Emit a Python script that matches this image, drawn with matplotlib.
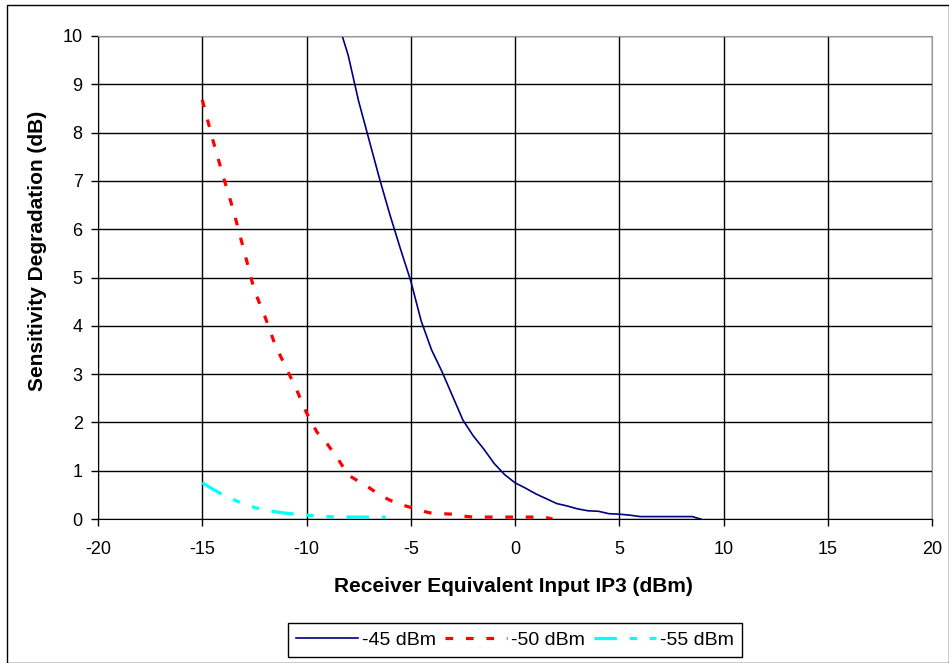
import matplotlib.pyplot as plt
from matplotlib.patches import Rectangle

plt.rcParams['font.family'] = ['Liberation Sans', 'DejaVu Sans']
plt.rcParams['axes.unicode_minus'] = False

# -45 dBm curve
x45 = [-9, -8.5, -8, -7.5, -7, -6.5, -6, -5.5, -5, -4.5, -4, -3.5, -3, -2.5, -2,
       -1.5, -1, -0.5, 0, 0.5, 1, 1.5, 2, 2.5, 3, 3.5, 4, 4.5, 5, 5.5, 6, 6.5,
       7, 7.5, 8, 8.5, 8.9]
y45 = [11.1, 10.3, 9.6, 8.65, 7.85, 7.05, 6.3, 5.6, 4.93, 4.1, 3.5, 3.05, 2.55,
       2.05, 1.72, 1.45, 1.15, 0.92, 0.75, 0.64, 0.52, 0.42, 0.32, 0.27, 0.21,
       0.17, 0.16, 0.11, 0.1, 0.08, 0.05, 0.05, 0.05, 0.05, 0.05, 0.05, 0.0]

# -50 dBm curve
x50 = [-15, -14.5, -14, -13.5, -13, -12.5, -12, -11.5, -11, -10.5, -10, -9.5,
       -9, -8.5, -8, -7.5, -7, -6.5, -6, -5.5, -5, -4.5, -4, -3.5, -3, -2.5,
       -2, -1.5, -1, -0.5, 0, 0.5, 1, 1.5, 1.8]
y50 = [8.68, 7.86, 7.1, 6.38, 5.56, 4.73, 4.2, 3.6, 3.15, 2.7, 2.2, 1.8, 1.55,
       1.25, 0.91, 0.78, 0.65, 0.5, 0.39, 0.3, 0.24, 0.17, 0.12, 0.11, 0.1,
       0.06, 0.04, 0.04, 0.04, 0.04, 0.04, 0.04, 0.04, 0.03, 0.0]

# -55 dBm curve
x55 = [-15, -14.5, -14, -13.5, -13, -12.5, -12, -11.5, -11, -10.5, -10, -9.5,
       -9, -8.5, -8, -7.5, -7, -6.5, -6.2]
y55 = [0.75, 0.62, 0.5, 0.4, 0.31, 0.24, 0.18, 0.15, 0.12, 0.1, 0.08, 0.06,
       0.05, 0.04, 0.04, 0.04, 0.04, 0.04, 0.04]

xticks = list(range(-20, 21, 5))
yticks = list(range(0, 11))

fig = plt.figure(figsize=(9.49, 6.63), dpi=100)
ax = fig.add_axes([98 / 949, 1 - 519 / 663, (932 - 98) / 949, (519 - 36) / 663])

ax.plot(x45, y45, color='#000080', lw=1.2, label='-45 dBm')
ax.plot(x50, y50, color='#ff0000', lw=2.3, dashes=(2.4, 4), label='-50 dBm')
ax.plot(x55, y55, color='#00ffff', lw=2.3, dashes=(7, 4, 2.3, 4, 2.3, 4),
        label='-55 dBm')

ax.set_xlim(-20, 20)
ax.set_ylim(0, 10)
ax.set_xticks(xticks)
ax.set_yticks(yticks)
ax.grid(True, color='black', lw=1)
ax.set_axisbelow(True)
ax.tick_params(direction='out', length=5, width=1, labelsize=13)
ax.tick_params(axis='x', pad=11)
ax.tick_params(axis='y', pad=6)
for s in ['top', 'right']:
    ax.spines[s].set_color('#999999')
ax.spines['left'].set_color('black')
ax.spines['bottom'].set_color('black')

fig.text(513 / 949, 1 - 586 / 663, 'Receiver Equivalent Input IP3 (dBm)',
         fontsize=15, fontweight='bold', ha='center', va='center')
fig.text(38 / 949, 1 - 251 / 663, 'Sensitivity Degradation (dB)',
         fontsize=15, fontweight='bold', ha='center', va='center', rotation=90)

leg = fig.legend(loc='center', bbox_to_anchor=(515 / 949, 1 - 640 / 663),
                 ncol=3, fontsize=14, fancybox=False, edgecolor='black',
                 handlelength=3.2, handletextpad=0.2, columnspacing=0.45,
                 borderpad=0.4, framealpha=1)
leg.get_frame().set_linewidth(1)

fig.patches.append(Rectangle((7 / 949, 0), 1 - 7 / 949, 1 - 5 / 663,
                             transform=fig.transFigure, fill=False,
                             edgecolor='black', lw=1))

fig.savefig('out.png', dpi=100)
